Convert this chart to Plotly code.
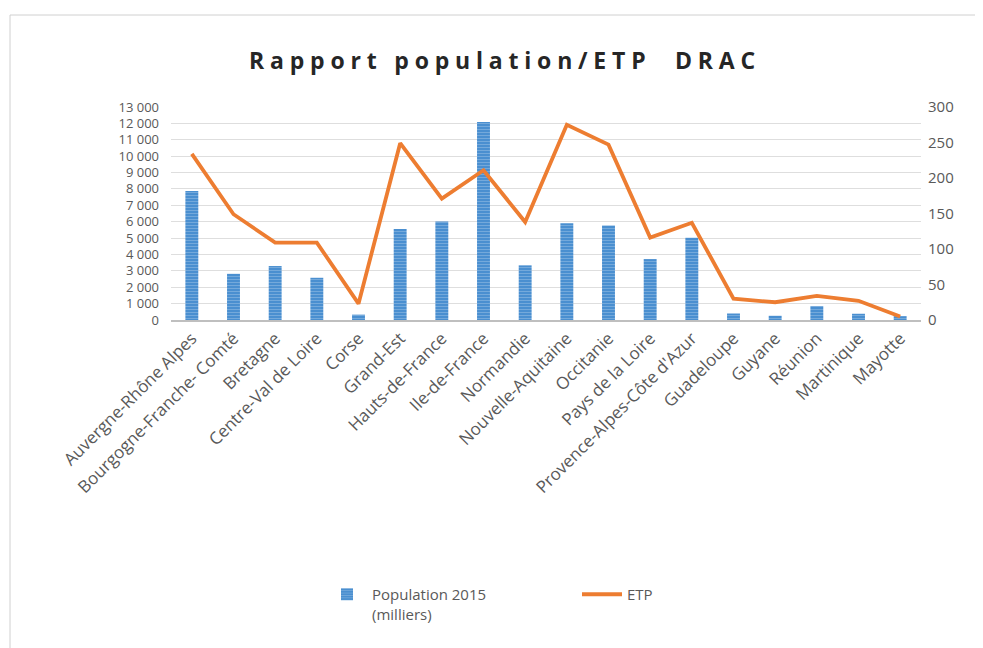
import plotly.graph_objects as go

regions = ["Auvergne-Rhône Alpes", "Bourgogne-Franche- Comté", "Bretagne", "Centre-Val de Loire",
           "Corse", "Grand-Est", "Hauts-de-France", "Ile-de-France", "Normandie",
           "Nouvelle-Aquitaine", "Occitanie", "Pays de la Loire", "Provence-Alpes-Côte d'Azur",
           "Guadeloupe", "Guyane", "Réunion", "Martinique", "Mayotte"]
population_2015 = [7877, 2820, 3294, 2577, 327, 5559, 6006, 12082, 3335,
                   5911, 5774, 3718, 5021, 397, 259, 850, 381, 235]
etp = [234, 149, 109, 109, 23, 249, 171, 211, 138,
       275, 247, 116, 137, 30, 25, 34, 27, 5]
left_ticks = list(range(0, 13001, 1000))
left_labels = ["0" if v == 0 else f"{v // 1000} 000" for v in left_ticks]
right_ticks = list(range(0, 301, 50))

W, H = 983, 648
OFF = 8  # page body margin
# plot area in screen pixels
L, R, T, B = 171, 921, 107, 320
pw, ph = R - L, B - T

def px_x(x):
    return (x - L) / pw

def px_y(y):
    return (B - y) / ph

fig = go.Figure()
fig.add_trace(go.Bar(
    x=regions, y=population_2015, name="Population 2015<br>(milliers)",
    marker=dict(color="#5b9bd5", line=dict(width=0),
                pattern=dict(shape="-", fgcolor="#9dc3e6", bgcolor="#4a8fd0", size=3, solidity=0.35)),
    width=0.31, yaxis="y",
))
fig.add_trace(go.Scatter(
    x=regions, y=etp, name="ETP", mode="lines",
    line=dict(color="#ed7d31", width=3.8), yaxis="y2",
))

grey = "#595959"
fig.update_layout(
    width=W, height=H,
    margin=dict(l=L - OFF, r=W - (R - OFF), t=T - OFF, b=H - (B - OFF)),
    paper_bgcolor="white", plot_bgcolor="white",
    font=dict(family="Open Sans", color=grey),
    title=dict(text='<span style="letter-spacing:5.8px">Rapport population/ETP  DRAC</span>',
               x=(505 - OFF) / W, xanchor="center", y=1 - (61 - OFF) / H, yanchor="middle",
               font=dict(family="Open Sans", size=23, color="#262626", weight="bold")),
    xaxis=dict(tickangle=-45, tickfont=dict(size=17, color=grey), showgrid=False,
               showline=True, linecolor="#bfbfbf", linewidth=1.5, ticks=""),
    yaxis=dict(range=[0, 13000], tickvals=left_ticks, ticktext=left_labels,
               tickfont=dict(size=13, color=grey), showgrid=True, gridcolor="#dedede",
               zeroline=False, ticklabelstandoff=11),
    yaxis2=dict(range=[0, 300], tickvals=right_ticks, overlaying="y", side="right",
                tickfont=dict(size=15, color=grey), showgrid=False, zeroline=False,
                ticklabelstandoff=6),
    legend=dict(orientation="h", x=px_x(322), xanchor="left", y=px_y(578), yanchor="top",
                font=dict(size=15, color=grey), itemwidth=40, traceorder="normal",
                valign="top", entrywidth=200, entrywidthmode="pixels"),
    showlegend=True,
    shapes=[dict(type="rect", xref="paper", yref="paper",
                 x0=px_x(10), x1=px_x(1000), y0=px_y(670), y1=px_y(15),
                 line=dict(color="#d0d0d0", width=1), layer="below")],
)

fig.write_html("out.html")
